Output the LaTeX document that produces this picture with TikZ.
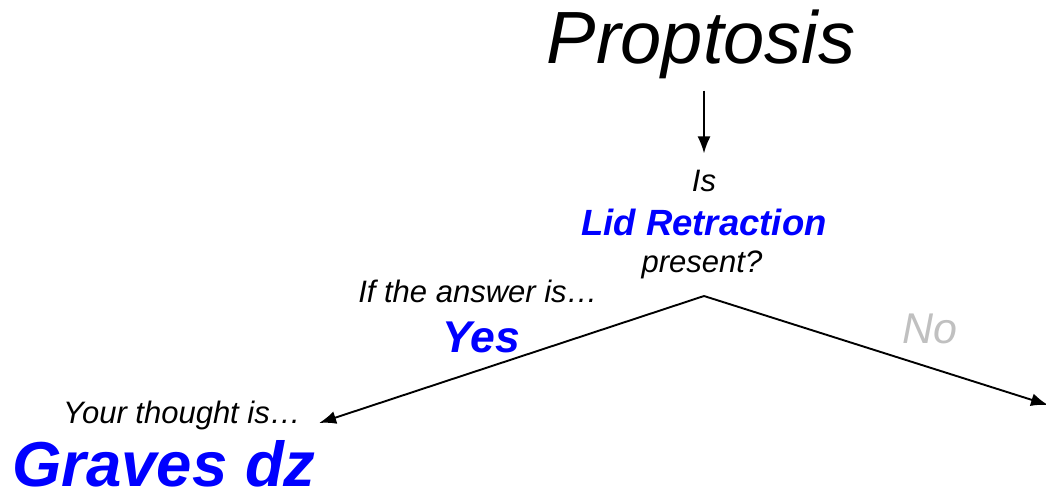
\documentclass[tikz,border=0pt]{standalone}
\usepackage{fontspec}
\setmainfont{Liberation Sans}
\usepackage{xcolor}
\usetikzlibrary{positioning,arrows.meta}
\definecolor{ansblue}{RGB}{0,0,255}
\definecolor{nogray}{RGB}{192,192,192}

\begin{document}
\begin{tikzpicture}[x=1pt, y=-1pt, every node/.style={inner sep=0pt, anchor=base},
    txt/.style={font=\fontsize{31}{36}\selectfont\itshape},
    key/.style={font=\fontsize{#1}{#1}\selectfont\bfseries\itshape, text=ansblue},
    link/.style={line width=1.9pt, -{Latex[length=17pt,width=13pt]}}]
  \useasboundingbox (0,0) rectangle (1046,496);
  % question
  \node[font=\fontsize{74}{80}\selectfont\itshape] (prop) at (701,63) {Proptosis};
  \node[txt] (is) at (704,191) {Is};
  \node[key=36.5] (lid) at (704,235) {Lid Retraction};
  \node[txt] (present) at (702,272) {present?};
  \coordinate (split) at (704,296);
  % answers
  \node[txt] (ifans) at (478,302) {If the answer is…};
  \node[key=44.5] (yes) at (481,352) {Yes};
  \node[font=\fontsize{43}{43}\selectfont\itshape, text=nogray] (no) at (930,343) {No};
  \node[txt] (thought) at (182,423) {Your thought is…};
  \node[key=63.5] (graves) at (164,486) {Graves dz};
  \coordinate (noend) at (1048,405);

  \draw[link, shorten <=12pt, shorten >=16pt] (prop.south -| is.north) -- (is.north);
  \draw[link] (split) -- ([xshift=18pt]thought.base east);
  \draw[link] (split) -- (noend);
\end{tikzpicture}
\end{document}
